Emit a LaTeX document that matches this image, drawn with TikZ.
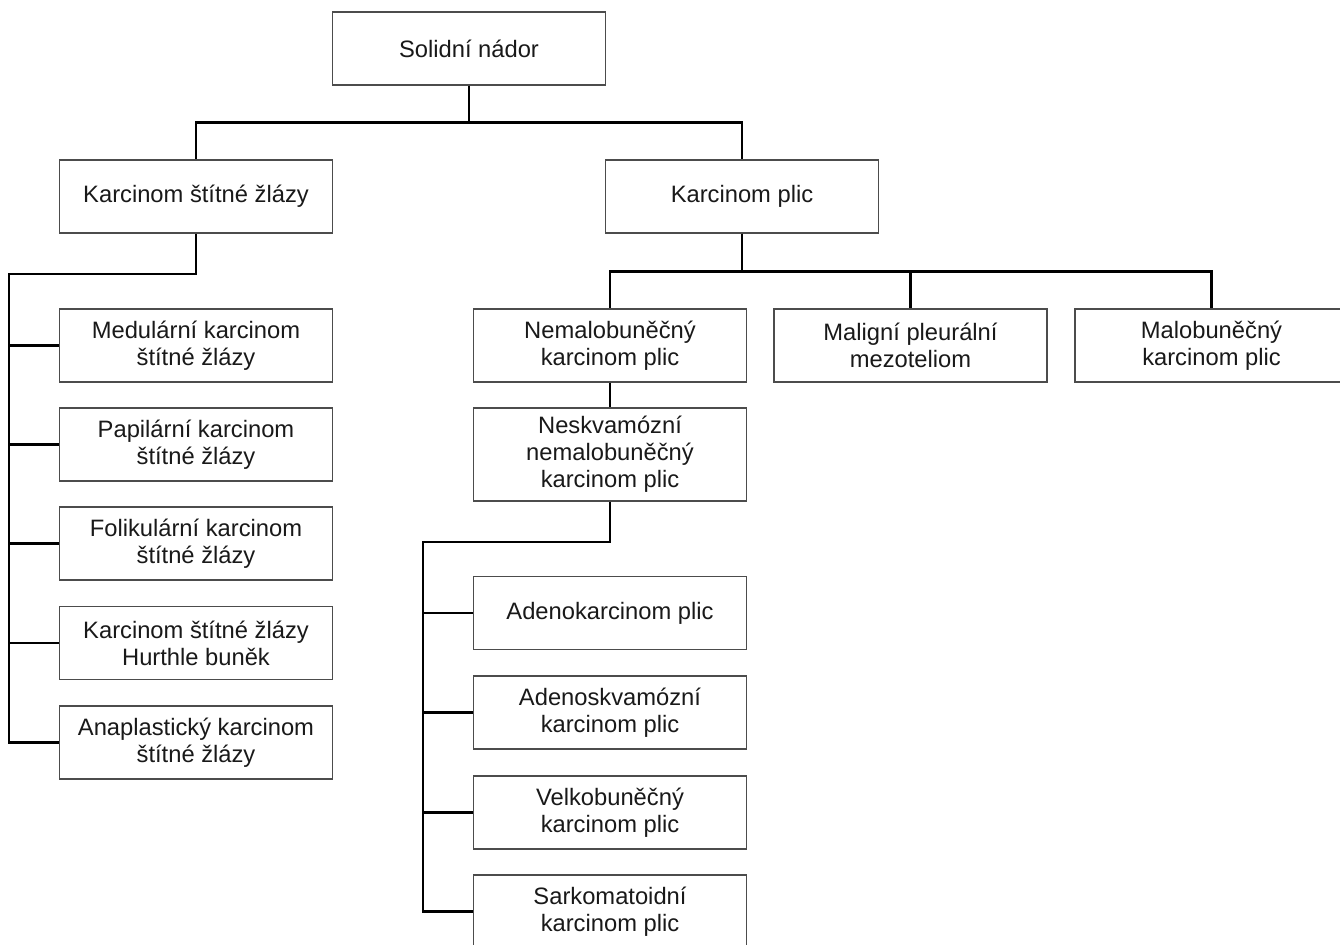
\documentclass[tikz,border=0pt]{standalone}
\usepackage{fontspec}
\setmainfont{Liberation Sans}
\begin{document}
\begin{tikzpicture}[x=0.75pt,y=-0.75pt,
  box/.style={draw=black!70,line width=0.8pt,fill=white,inner sep=0pt,
    minimum width=204.75pt,minimum height=54.75pt,align=center,
    font=\fontsize{17.8}{20.3}\selectfont,text=black!90},
  conn/.style={draw=black,line width=1.7pt,line join=miter}]
\useasboundingbox (0,0) rectangle (1340,945);
\begin{scope}
\clip (0,0) rectangle (1340,945);
% nodes
\node[box] (solid) at (469,48.5) {Solidní nádor};
\node[box] (kst) at (196,196.5) {Karcinom štítné žlázy};
\node[box] (kp) at (742,196.5) {Karcinom plic};
\node[box] (med) at (196,345.5) {Medulární karcinom\\štítné žlázy};
\node[box] (pap) at (196,444.5) {Papilární karcinom\\štítné žlázy};
\node[box] (fol) at (196,543.5) {Folikulární karcinom\\štítné žlázy};
\node[box] (hur) at (196,643) {Karcinom štítné žlázy\\Hurthle buněk};
\node[box] (ana) at (196,742.5) {Anaplastický karcinom\\štítné žlázy};
\node[box] (nemalo) at (610,345.5) {Nemalobuněčný\\karcinom plic};
\node[box] (mpm) at (910.5,345.5) {Maligní pleurální\\mezoteliom};
\node[box] (malo) at (1211.5,345.5) {Malobuněčný\\karcinom plic};
\node[box,minimum height=69.75pt] (nesk) at (610,454.5) {Neskvamózní\\nemalobuněčný\\karcinom plic};
\node[box] (adeno) at (610,613) {Adenokarcinom plic};
\node[box] (adsq) at (610,712.5) {Adenoskvamózní\\karcinom plic};
\node[box] (velko) at (610,812.5) {Velkobuněčný\\karcinom plic};
\node[box] (sark) at (610,911.5) {Sarkomatoidní\\karcinom plic};
\coordinate (trunkL) at (9,274);
\coordinate (trunkR) at (423,542);
% connectors
\draw[conn] (solid.south) -- ++(0,37) -| (kst.north);
\draw[conn] (solid.south) -- ++(0,37) -| (kp.north);
\draw[conn] (kst.south) |- (trunkL) |- (ana.west);
\foreach \n in {med,pap,fol,hur} \draw[conn] (\n.west) -- (\n.west -| trunkL);
\draw[conn] (kp.south) -- ++(0,38) -| (nemalo.north);
\draw[conn] (kp.south) -- ++(0,38) -| (mpm.north);
\draw[conn] (kp.south) -- ++(0,38) -| (malo.north);
\draw[conn] (nemalo.south) -- (nesk.north);
\draw[conn] (nesk.south) |- (trunkR) |- (sark.west);
\foreach \n in {adeno,adsq,velko} \draw[conn] (\n.west) -- (\n.west -| trunkR);
\end{scope}
\end{tikzpicture}
\end{document}
